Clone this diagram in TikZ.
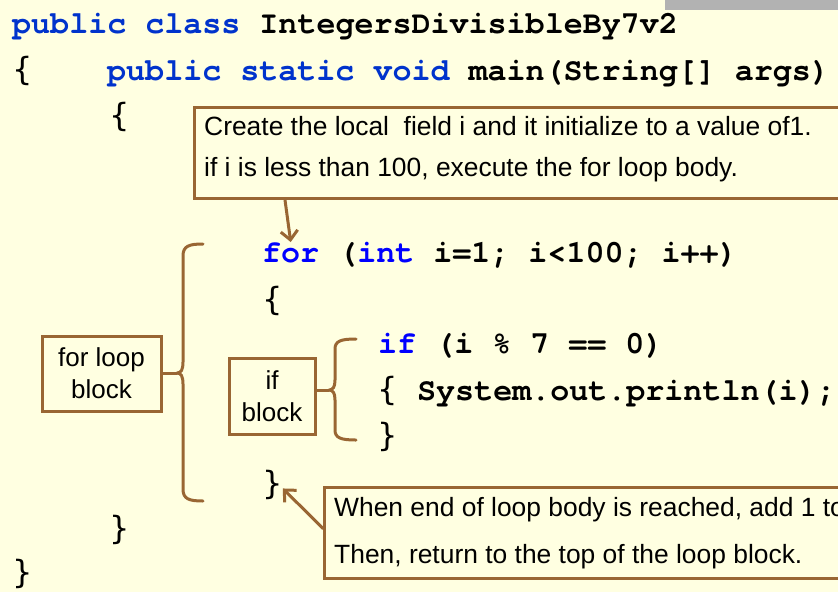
\documentclass[tikz,border=0pt]{standalone}
\usepackage{fontspec}
\setmainfont{Liberation Sans}
\newfontfamily\codefont{texgyrecursor}[Extension=.otf, UprightFont=*-regular, BoldFont=*-bold]
\newfontfamily\bracefont{DejaVu Sans}
\usetikzlibrary{arrows.meta}
\definecolor{paper}{RGB}{255,255,225}
\definecolor{kwdark}{RGB}{0,51,204}
\definecolor{kwblue}{RGB}{0,0,255}
\definecolor{rust}{RGB}{153,102,51}
\definecolor{tabgrey}{RGB}{178,178,178}
\begin{document}
\begin{tikzpicture}[x=1pt,y=-1pt,
  code/.style={anchor=base west, inner sep=0pt, font=\codefont\bfseries\fontsize{31.7}{38}\selectfont},
  brc/.style={anchor=base west, inner sep=0pt, font=\bracefont\fontsize{32}{38}\selectfont},
  note/.style={anchor=base west, inner sep=0pt, font=\fontsize{26.4}{30}\selectfont},
  callbox/.style={draw=rust, line width=3pt, fill=paper, anchor=north west, inner sep=0pt},
  tagbox/.style={draw=rust, line width=3pt, fill=paper, align=center, inner sep=0pt,
    font=\fontsize{26}{32}\selectfont},
  brk/.style={draw=rust, line width=3pt, line cap=round, line join=round},
  pointer/.style={brk, -{Straight Barb[length=9pt,width=17pt]}}
]
% page
\useasboundingbox (0,0) rectangle (838,592);
\fill[paper] (0,0) rectangle (838,592);
\fill[tabgrey] (665,0) rectangle (838,9.5);

% class header and method signature
\node[code] (cls) at (12,33) {{\color{kwdark}public class} IntegersDivisibleBy7v2};
\node[brc] (ob1) at (12,80) {\{};
\node[code] (mainsig) at (107,80) {{\color{kwdark}public static void} main(String[] args)};
\node[brc] (ob2) at (109,126) {\{};

% for loop
\node[code, text=kwblue] (forkw) at (262,262) {for};
\node[code] (forhead) at (338.1,262) {({\color{kwblue}int} i=1; i<100; i++)};
\node[brc] (ob3) at (262,310) {\{};

% if statement
\node[code] (ifline) at (378,353) {{\color{kwblue}if} (i \% 7 == 0)};
\node[brc] (ob4) at (377,400) {\{};
\node[code] (println) at (417,400) {System.out.println(i);};
\node[brc] (cb4) at (377,446) {\}};

% closing braces
\node[brc] (cb3) at (262,494) {\}};
\node[brc] (cb2) at (109,539) {\}};
\node[brc] (cb1) at (12,583) {\}};

% callout: loop header
\node[callbox, minimum width=700, minimum height=91] (init) at (193,106) {};
\node[note] (inita) at (204,135) {Create the local\ \ field i and it initialize to a value of1.};
\node[note] (initb) at (204,176) {if i is less than 100, execute the for loop body.};

% callout: end of loop body
\node[callbox, minimum width=600, minimum height=91] (incr) at (323,486) {};
\node[note] (incra) at (334,516) {When end of loop body is reached, add 1 to};
\node[note] (incrb) at (334,563) {Then, return to the top of the loop block.};

% block labels
\node[tagbox, minimum width=119, minimum height=75] (forblk) at (101.5,373.5) {for loop\\block};
\node[tagbox, minimum width=86, minimum height=76] (ifblk) at (272,396) {if\\block};

% bracket round the for loop
\coordinate (fortip) at (177,373);
\draw[brk] (203,244) .. controls (189,244) and (183,246) .. (183,256) -- (183,362)
  .. controls (183,370) and (181,373) .. (fortip)
  .. controls (181,373) and (183,376) .. (183,384) -- (183,489)
  .. controls (183,499) and (189,501) .. (203,501);
\draw[brk] (forblk.east |- fortip) -- (fortip);

% bracket round the if statement
\coordinate (iftip) at (329,390);
\draw[brk] (356,339) .. controls (341,339) and (335,341) .. (335,349) -- (335,380)
  .. controls (335,387) and (333,390) .. (iftip)
  .. controls (333,390) and (335,393) .. (335,400) -- (335,430)
  .. controls (335,438) and (341,440) .. (356,440);
\draw[brk] (ifblk.east |- iftip) -- (iftip);

% pointers
\draw[pointer] ([xshift=92pt]init.south west) -- (forkw.north);
\draw[pointer] ([yshift=4.5pt]incr.west) -- ([yshift=-4pt]cb3.east);
\end{tikzpicture}
\end{document}
